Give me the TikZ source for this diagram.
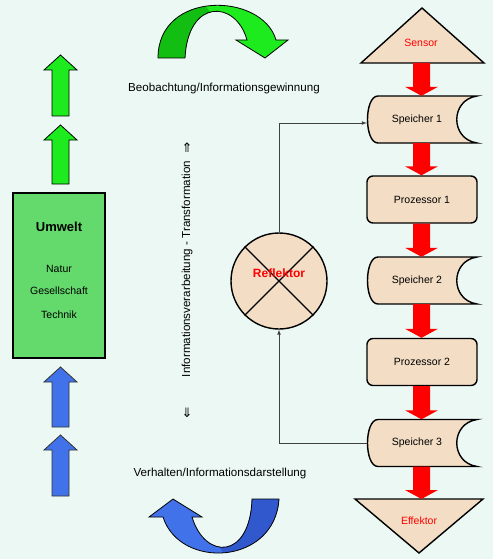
\documentclass[tikz,border=0pt]{standalone}
\usepackage{fontspec}
\setmainfont{Liberation Sans}
\newfontfamily\pfeilfont{DejaVu Sans}
\usepackage{tikz}
\usetikzlibrary{arrows, calc, shapes.geometric}
\usepackage{xcolor}

\definecolor{hintergrund}{RGB}{236,248,243}
\definecolor{pfirsich}{RGB}{243,221,196}
\definecolor{umweltgruen}{RGB}{100,218,108}
\definecolor{hellgruen}{RGB}{30,235,30}
\definecolor{dunkelgruen}{RGB}{18,190,18}
\definecolor{hellblau}{RGB}{66,114,234}
\definecolor{dunkelblau}{RGB}{50,88,205}

% up arrow: style, x, tip y, bottom y
\newcommand\hochpfeil[4]{%
  \draw[#1] (#2-8.5,#4) -- (#2-8.5,#3+15) -- (#2-16.5,#3+15) -- (#2,#3)
    -- (#2+16.5,#3+15) -- (#2+8.5,#3+15) -- (#2+8.5,#4) -- cycle;}
% red arrow between two points of the right column
\newcommand\rotpfeil[2]{%
  \fill[red] let \p1=(spalte), \p2=(#1), \p3=(#2) in
    (\x1-8.5pt,\y2) -- (\x1+8.5pt,\y2) -- (\x1+8.5pt,\y3+9pt) -- (\x1+16.5pt,\y3+9pt)
    -- (\x1,\y3) -- (\x1-16.5pt,\y3+9pt) -- (\x1-8.5pt,\y3+9pt) -- cycle;}

\begin{document}
\begin{tikzpicture}[x=1pt, y=-1pt,
  form/.style={draw=black, line width=1.4pt, fill=pfirsich},
  klein/.style={font=\fontsize{10.5}{12}\selectfont},
  beschriftung/.style={font=\fontsize{11.6}{13}\selectfont},
  prozessor/.style={form, klein, rounded corners=6pt, minimum width=110pt, minimum height=47pt},
  speicher/.style={klein, minimum width=100pt, minimum height=47pt},
  verbindung/.style={draw=black!75, line width=0.7pt},
  gruen/.style={fill=hellgruen, draw=black, line width=0.8pt},
  blau/.style={fill=hellblau, draw=black!80, line width=0.8pt}]
  \useasboundingbox[fill=hintergrund] (0,0) rectangle (493,559);
  \coordinate (spalte) at (421.5,0);

  % left column
  \hochpfeil{gruen}{60.5}{55}{116}
  \hochpfeil{gruen}{60.5}{125}{184}
  \node[draw=black, line width=1.5pt, fill=umweltgruen, minimum width=92pt, minimum height=165pt] (umwelt) at (59,275.5) {};
  \node[font=\fontsize{13}{14}\selectfont\bfseries] (umwelttitel) at (59,227) {Umwelt};
  \node[klein] (natur) at (59,269) {Natur};
  \node[klein] (gesellschaft) at (59,291) {Gesellschaft};
  \node[klein] (technik) at (59,315) {Technik};
  \hochpfeil{blau}{60.5}{367}{427}
  \hochpfeil{blau}{60.5}{435}{496}

  % curved arrows
  \def\obenband{(158,58) .. controls (158,-10) and (262,-8) .. (276,40) -- (288,40) -- (265,58)
    -- (236,40) -- (247,40) .. controls (236,0) and (188,-2) .. (185,58) -- cycle}
  \fill[hellgruen] \obenband;
  \begin{scope}
    \clip (150,0) -- (200,0) -- (212,14) -- (212,60) -- (150,60) -- cycle;
    \fill[dunkelgruen] \obenband;
  \end{scope}
  \draw[line width=0.8pt] \obenband;
  \def\untenband{(279,499) .. controls (275,565) and (180,570) .. (163,517) -- (149,517) -- (173,499)
    -- (202,517) -- (192,517) .. controls (205,560) and (250,560) .. (252,499) -- cycle}
  \fill[hellblau] \untenband;
  \begin{scope}
    \clip (222,495) -- (285,495) -- (285,559) -- (228,559) -- (218,545) -- cycle;
    \fill[dunkelblau] \untenband;
  \end{scope}
  \draw[line width=0.8pt] \untenband;

  \node[beschriftung] (beobachtung) at (224,89) {Beobachtung/Informationsgewinnung};
  \node[beschriftung] (verhalten) at (220,473) {Verhalten/Informationsdarstellung};
  \node[beschriftung, rotate=90] (transformation) at (187,269) {Informationsverarbeitung - Transformation};
  \node[font=\pfeilfont\fontsize{13}{14}\selectfont] (hoch) at (187,148) {⇑};
  \node[font=\pfeilfont\fontsize{13}{14}\selectfont] (runter) at (187,413) {⇓};

  % right column
  \draw[form] (422,8) -- (484,63) -- (361,63) -- cycle;
  \node[klein, text=red] (sensor) at (421,43) {Sensor};
  \coordinate (sensorbasis) at (421.5,63);
  \foreach \n/\y in {1/119.5, 2/280.5, 3/443} {
    \draw[form] (378,\y-23.5) -- (477,\y-23.5) .. controls (450,\y-19.5) and (450,\y+19.5) .. (477,\y+23.5)
      -- (378,\y+23.5) .. controls (364,\y+23.5) and (364,\y-23.5) .. cycle;
    \node[speicher] (speicher\n) at (417,\y) {Speicher \n};
  }
  \node[prozessor] (prozessor1) at (422,199.5) {Prozessor 1};
  \node[prozessor] (prozessor2) at (422,362) {Prozessor 2};
  \draw[form] (355,499) -- (483,499) -- (419,553) -- cycle;
  \node[klein, text=red] (effektor) at (419,521) {Effektor};
  \coordinate (effektorbasis) at (421.5,499);

  \rotpfeil{sensorbasis}{speicher1.north}
  \rotpfeil{speicher1.south}{prozessor1.north}
  \rotpfeil{prozessor1.south}{speicher2.north}
  \rotpfeil{speicher2.south}{prozessor2.north}
  \rotpfeil{prozessor2.south}{speicher3.north}
  \rotpfeil{speicher3.south}{effektorbasis}

  % reflector
  \node[circle, form, minimum size=96pt] (reflektor) at (279,281) {};
  \draw[line width=1.4pt] (reflektor.45) -- (reflektor.225);
  \draw[line width=1.4pt] (reflektor.135) -- (reflektor.-45);
  \node[font=\fontsize{12}{13}\selectfont\bfseries, text=red] (reflektortext) at (279,273) {Reflektor};

  \draw[verbindung, -latex] (reflektor.north) |- ([yshift=-3.5pt]speicher1.west);
  \draw[verbindung, -latex] (speicher3.west) -| (reflektor.south);
\end{tikzpicture}
\end{document}
